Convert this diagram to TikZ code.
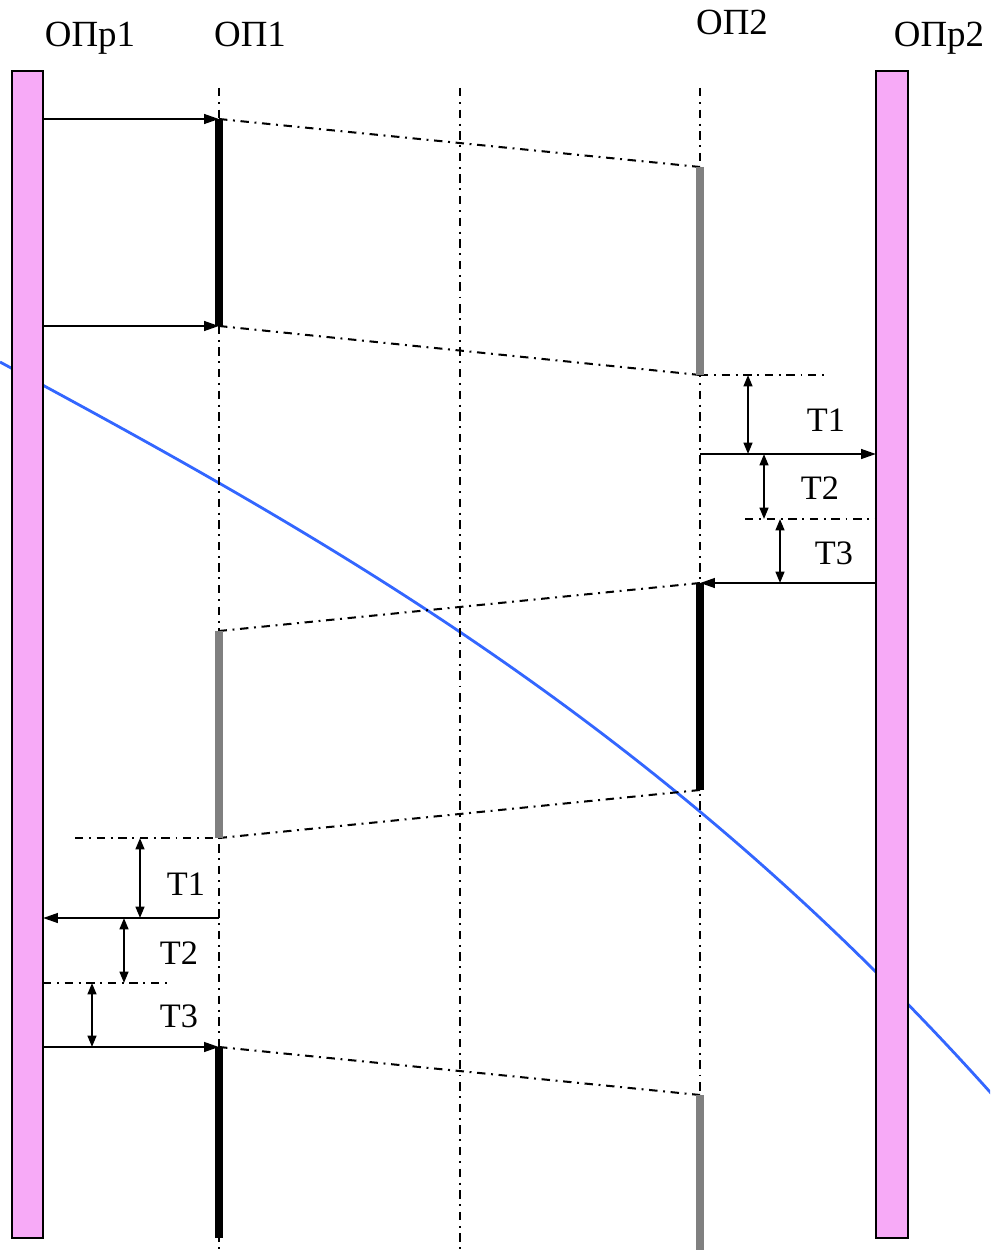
\documentclass[tikz,border=0pt]{standalone}
\usepackage{fontspec}
\setmainfont{Liberation Serif}
\usetikzlibrary{arrows.meta}
\definecolor{pinkfill}{RGB}{247,170,247}
\definecolor{curveblue}{RGB}{51,102,255}
\definecolor{actgray}{RGB}{128,128,128}
\begin{document}
\begin{tikzpicture}[x=0.02cm,y=-0.02cm,
  lifeline/.style={line width=1.15pt, dash pattern=on 4.8pt off 3.2pt on 1.1pt off 3.2pt},
  guide/.style={line width=1.15pt, dash pattern=on 4.8pt off 3.2pt on 1.1pt off 3.2pt},
  msg/.style={line width=1.3pt, -{Triangle[length=8.5pt,width=5.5pt]}},
  span/.style={line width=1.2pt, {Triangle[length=6.5pt,width=5pt]}-{Triangle[length=6.5pt,width=5pt]}},
  actblack/.style={line width=4pt, black},
  actgrey/.style={line width=4pt, actgray},
  party/.style={draw=black, line width=1.3pt, fill=pinkfill},
  curve/.style={line width=1.6pt, curveblue},
  lbl/.style={font=\fontsize{19.5}{22}\selectfont, anchor=base, inner sep=0pt},
  toplbl/.style={font=\fontsize{21}{24}\selectfont, anchor=base, inner sep=0pt},
]
\useasboundingbox (0,0) rectangle (990,1253);

% blue curve (behind everything)
\begin{scope}
\clip (0,0) rectangle (990,1253);
\draw[curve] plot[domain=0:0.995, samples=80, variable=\t]
  ({1000*\t}, {362+539.6*\t+18.9*\t*\t+182.7*\t*\t*\t});
\end{scope}

% coordinates
\coordinate (L1top) at (219,88);  \coordinate (L1bot) at (219,1250);
\coordinate (Lmtop) at (460,88);  \coordinate (Lmbot) at (460,1250);
\coordinate (L2top) at (700,88);  \coordinate (L2bot) at (700,1250);

\coordinate (a1) at (219,119);  \coordinate (a2) at (219,326);
\coordinate (b1) at (700,167);  \coordinate (b2) at (700,375);
\coordinate (c1) at (700,583);  \coordinate (c2) at (700,790);
\coordinate (d1) at (219,631);  \coordinate (d2) at (219,838);
\coordinate (e1) at (219,1047); \coordinate (e2) at (219,1238);
\coordinate (f1) at (700,1095); \coordinate (f2) at (700,1250);

\coordinate (p1a) at (43,119);  \coordinate (p1b) at (43,326);
\coordinate (p1c) at (43,918);  \coordinate (p1d) at (43,1047);
\coordinate (p1e) at (43,983);
\coordinate (p2a) at (876,454); \coordinate (p2b) at (876,583);
\coordinate (p2c) at (876,519);
\coordinate (q1) at (700,454);  \coordinate (q2) at (219,918);
\coordinate (g1) at (826,375);  \coordinate (g2) at (745,519);
\coordinate (g3) at (75,838);   \coordinate (g4) at (170,983);

% lifelines
\draw[lifeline] (L1top) -- (L1bot);
\draw[lifeline] (Lmtop) -- (Lmbot);
\draw[lifeline] (L2top) -- (L2bot);

% slanted dash-dot lines
\draw[guide] (a1) -- (b1);
\draw[guide] (a2) -- (b2);
\draw[guide] (c1) -- (d1);
\draw[guide] (c2) -- (d2);
\draw[guide] (e1) -- (f1);

% horizontal guides
\draw[guide] (b2) -- (g1);
\draw[guide] (g2) -- (p2c);
\draw[guide] (g3) -- (d2);
\draw[guide] (p1e) -- (g4);

% activation bars
\draw[actblack] (a1) -- (a2);
\draw[actgrey]  (b1) -- (b2);
\draw[actblack] (c1) -- (c2);
\draw[actgrey]  (d1) -- (d2);
\draw[actblack] (e1) -- (e2);
\draw[actgrey]  (f1) -- (f2);

% participants
\draw[party] (12,71) rectangle (43,1238);
\draw[party] (876,71) rectangle (908,1238);

% messages
\draw[msg] (p1a) -- (a1);
\draw[msg] (p1b) -- (a2);
\draw[msg] (q1) -- (p2a);
\draw[msg] (p2b) -- (c1);
\draw[msg] (q2) -- (p1c);
\draw[msg] (p1d) -- (e1);

% interval arrows
\coordinate (s1a) at (748,375); \coordinate (s1b) at (748,454);
\coordinate (s2a) at (764,454); \coordinate (s2b) at (764,519);
\coordinate (s3a) at (780,519); \coordinate (s3b) at (780,583);
\coordinate (t1a) at (140,838); \coordinate (t1b) at (140,918);
\coordinate (t2a) at (124,918); \coordinate (t2b) at (124,983);
\coordinate (t3a) at (92,983);  \coordinate (t3b) at (92,1047);
\draw[span] (s1a) -- (s1b);
\draw[span] (s2a) -- (s2b);
\draw[span] (s3a) -- (s3b);
\draw[span] (t1a) -- (t1b);
\draw[span] (t2a) -- (t2b);
\draw[span] (t3a) -- (t3b);

% labels
\node[toplbl] (n1) at (90,47) {ОПр1};
\node[toplbl] (n2) at (250,47) {ОП1};
\node[toplbl] (n3) at (732,35) {ОП2};
\node[toplbl] (n4) at (939,47) {ОПр2};

\node[lbl] (r1) at (826,431) {T1};
\node[lbl] (r2) at (820,499) {T2};
\node[lbl] (r3) at (834,564) {T3};
\node[lbl] (l1) at (186,895) {T1};
\node[lbl] (l2) at (179,964) {T2};
\node[lbl] (l3) at (179,1027) {T3};
\end{tikzpicture}
\end{document}
